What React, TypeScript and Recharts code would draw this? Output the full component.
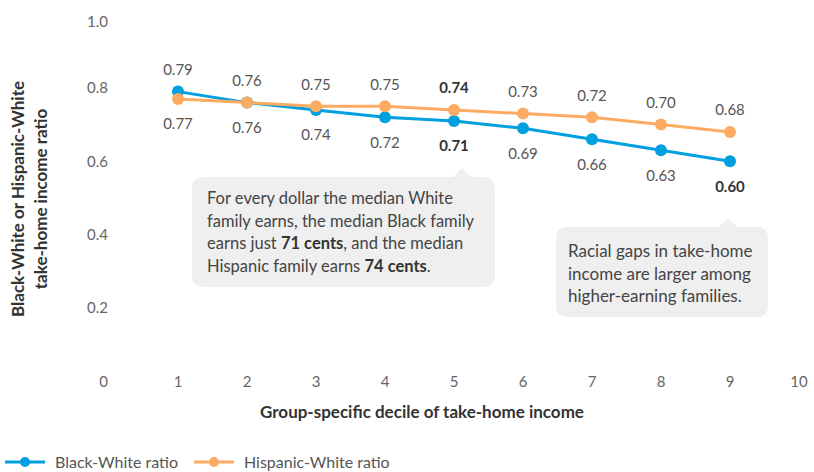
import React from 'react';
import { LineChart, Line, XAxis, YAxis, LabelList } from 'recharts';

const deciles = [1, 2, 3, 4, 5, 6, 7, 8, 9];
const blackWhite = [0.79, 0.76, 0.74, 0.72, 0.71, 0.69, 0.66, 0.63, 0.6];
const hispanicWhite = [0.77, 0.76, 0.75, 0.75, 0.74, 0.73, 0.72, 0.7, 0.68];
const boldBlack = [5, 9];
const boldHispanic = [5];
const xTicks = [1, 2, 3, 4, 5, 6, 7, 8, 9, 10];
const yTicks = [0, 0.2, 0.4, 0.6, 0.8, 1.0];
const yTickLabels = ['0', '0.2', '0.4', '0.6', '0.8', '1.0'];

const BLUE = '#009fdf';
const ORANGE = '#fcab62';
const FONT = 'Lato, "Open Sans", sans-serif';

const data = deciles.map((d, i) => ({ decile: d, black: blackWhite[i], hispanic: hispanicWhite[i] }));

function XTick(props: any) {
  const { x, y, payload } = props;
  return (
    <text x={x} y={y} dy="0.35em" textAnchor="middle" fontSize={15} fill="#666" fontFamily={FONT}>
      {payload.value}
    </text>
  );
}

function YTick(props: any) {
  const { x, y, payload } = props;
  const i = yTicks.indexOf(payload.value);
  const shift = payload.value === 1 ? 7 : 0;
  return (
    <text x={x - 1} y={y + shift} dy="0.35em" textAnchor="end" fontSize={15} fill="#666" fontFamily={FONT}>
      {yTickLabels[i]}
    </text>
  );
}

function makeLabel(series: 'black' | 'hispanic') {
  return (props: any) => {
    const { x, y, value, index } = props;
    const b = blackWhite[index];
    const h = hispanicWhite[index];
    const above = series === 'black' ? b >= h : h > b;
    const bold = (series === 'black' ? boldBlack : boldHispanic).includes(deciles[index]);
    return (
      <text
        x={x}
        y={above ? y - 22 : y + 25}
        dy="0.35em"
        textAnchor="middle"
        fontSize={15}
        fontWeight={bold ? 700 : 400}
        fill={bold ? '#333' : '#555'}
        fontFamily={FONT}
      >
        {Number(value).toFixed(2)}
      </text>
    );
  };
}

const boxText: React.CSSProperties = {
  position: 'absolute',
  background: '#efefef',
  borderRadius: 10,
  color: '#444',
  fontFamily: FONT,
  lineHeight: '22.7px',
  boxSizing: 'border-box',
  whiteSpace: 'nowrap',
};

function Pointer({ left, top }: { left: number; top: number }) {
  return (
    <div
      style={{
        position: 'absolute',
        left: left - 10,
        top: top,
        width: 0,
        height: 0,
        borderLeft: '10px solid transparent',
        borderRight: '10px solid transparent',
        borderBottom: '10px solid #efefef',
      }}
    />
  );
}

export default function App() {
  return (
    <div style={{ position: 'absolute', left: 0, top: 0, width: 814, height: 472, overflow: 'hidden', background: '#fff' }}>
      <LineChart width={814} height={472} data={data} margin={{ top: 14.6, right: 15, left: 49, bottom: 60.7 }}>
        <XAxis
          dataKey="decile"
          type="number"
          domain={[0, 10]}
          ticks={xTicks}
          axisLine={false}
          tickLine={false}
          tickSize={0}
          tickMargin={0}
          height={30}
          tick={<XTick />}
          interval={0}
        />
        <YAxis
          type="number"
          domain={[0, 1]}
          ticks={yTicks}
          axisLine={false}
          tickLine={false}
          tickSize={0}
          tickMargin={0}
          width={60}
          tick={<YTick />}
          interval={0}
        />
        <Line dataKey="black" stroke={BLUE} strokeWidth={3} dot={{ r: 6, fill: BLUE, stroke: 'none' }} activeDot={false} isAnimationActive={false}>
          <LabelList dataKey="black" content={makeLabel('black')} />
        </Line>
        <Line dataKey="hispanic" stroke={ORANGE} strokeWidth={3} dot={{ r: 6, fill: ORANGE, stroke: 'none' }} activeDot={false} isAnimationActive={false}>
          <LabelList dataKey="hispanic" content={makeLabel('hispanic')} />
        </Line>
      </LineChart>

      {/* y axis title */}
      <div
        style={{
          position: 'absolute',
          left: 29,
          top: 199,
          transform: 'translate(-50%, -50%) rotate(-90deg)',
          whiteSpace: 'nowrap',
          textAlign: 'center',
          fontFamily: FONT,
          fontWeight: 700,
          fontSize: 17,
          lineHeight: '23px',
          color: '#333',
        }}
      >
        Black-White or Hispanic-White
        <br />
        take-home income ratio
      </div>

      {/* x axis title */}
      <div
        style={{
          position: 'absolute',
          left: 422,
          top: 411,
          transform: 'translate(-50%, -50%)',
          whiteSpace: 'nowrap',
          fontFamily: FONT,
          fontWeight: 700,
          fontSize: 17,
          color: '#333',
        }}
      >
        Group-specific decile of take-home income
      </div>

      {/* callouts */}
      <Pointer left={462} top={168} />
      <div style={{ ...boxText, fontSize: 16.5, left: 192, top: 177, width: 303, height: 110, padding: '10px 0 0 15px' }}>
        For every dollar the median White
        <br />
        family earns, the median Black family
        <br />
        earns just <b style={{ color: '#333' }}>71 cents</b>, and the median
        <br />
        Hispanic family earns <b style={{ color: '#333' }}>74 cents</b>.
      </div>
      <Pointer left={728} top={218} />
      <div style={{ ...boxText, fontSize: 17, left: 556, top: 227, width: 212, height: 90, padding: '13px 0 0 12px' }}>
        Racial gaps in take-home
        <br />
        income are larger among
        <br />
        higher-earning families.
      </div>

      {/* legend */}
      <div
        style={{
          position: 'absolute',
          left: 5,
          top: 452,
          display: 'flex',
          alignItems: 'center',
          fontFamily: FONT,
          fontSize: 16,
          color: '#555',
          whiteSpace: 'nowrap',
        }}
      >
        {[
          { name: 'Black-White ratio', color: BLUE },
          { name: 'Hispanic-White ratio', color: ORANGE },
        ].map((it) => (
          <div key={it.name} style={{ display: 'flex', alignItems: 'center', marginRight: 16 }}>
            <svg width={40} height={14} style={{ marginRight: 10 }}>
              <line x1={0} y1={7} x2={40} y2={7} stroke={it.color} strokeWidth={3} />
              <circle cx={20} cy={7} r={5} fill={it.color} />
            </svg>
            <span>{it.name}</span>
          </div>
        ))}
      </div>
    </div>
  );
}
